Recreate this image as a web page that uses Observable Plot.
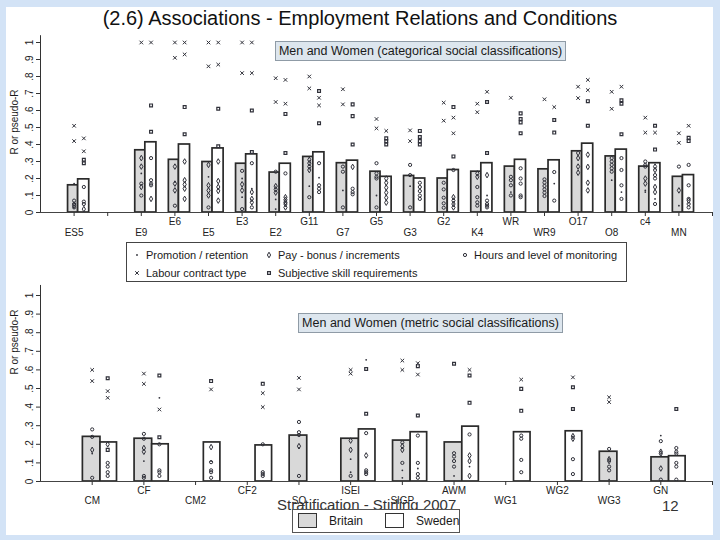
<!DOCTYPE html>
<html><head><meta charset="utf-8">
<script src="https://cdn.jsdelivr.net/npm/d3@7"></script>
<script src="https://cdn.jsdelivr.net/npm/@observablehq/plot@0.6"></script>
<style>
html,body{margin:0;padding:0;}
body{background:#d3e3f6;width:720px;height:540px;overflow:hidden;position:relative;font-family:"Liberation Sans",Arial,sans-serif;color:#1a1a1a;}
.abs{position:absolute;}
#slide{left:6px;top:7px;width:707px;height:528px;background:#fff;}
#title{left:0;width:720px;top:6px;text-align:center;font-size:20px;line-height:24px;color:#111;}
.sub{background:#dde6ee;border:1px solid #8f9ba6;font-size:12.5px;line-height:18px;text-align:center;color:#1a1a1a;box-sizing:border-box;}
.ytitle{font-size:10px;transform:translate(-50%,-50%) rotate(-90deg);white-space:nowrap;}
#legend{left:126px;top:242px;width:501px;height:40px;border:1px solid #444;box-sizing:border-box;background:#fff;font-size:11px;}
.li{position:absolute;white-space:nowrap;line-height:12px;}
.li svg{position:absolute;left:-14px;top:0;}
#clegend{left:292px;top:509px;width:168px;height:24px;border:1px solid #555;box-sizing:border-box;background:#fff;font-size:12px;}
.sw{position:absolute;top:3px;width:19px;height:15px;border:1.5px solid #333;box-sizing:border-box;}
#foot{left:277px;top:496px;font-size:15px;color:#333;white-space:nowrap;}
#pnum{left:662px;top:497px;font-size:15px;color:#333;}
</style></head><body>
<div id="slide" class="abs"></div>
<div id="title" class="abs">(2.6) Associations - Employment Relations and Conditions</div>
<div id="top" class="abs" style="left:0;top:30px;"></div>
<div id="bot" class="abs" style="left:0;top:280px;"></div>
<div class="abs sub" style="left:275px;top:41px;width:291px;height:20px;">Men and Women (categorical social classifications)</div>
<div class="abs sub" style="left:298px;top:313px;width:265px;height:20px;">Men and Women (metric social classifications)</div>
<div class="abs ytitle" style="left:14px;top:122px;">R or pseudo-R</div>
<div class="abs ytitle" style="left:14px;top:342px;">R or pseudo-R</div>
<div id="legend" class="abs"></div>
<div id="foot" class="abs">Stratification - Stirling 2007</div>
<div id="clegend" class="abs">
  <div class="sw" style="left:5px;background:#d9d9d9;"></div><div class="li" style="left:36px;top:5px;">Britain</div>
  <div class="sw" style="left:92px;background:#fff;"></div><div class="li" style="left:123px;top:5px;">Sweden</div>
</div>
<div id="pnum" class="abs">12</div>
<script>
// ---------- DATA ----------
const topCats = ["ES5","","E9","E6","E5","E3","E2","G11","G7","G5","G3","G2","K4","WR","WR9","O17","O8","c4","MN"];
const topBritain = [.16,null,.366,.31,.297,.287,.235,.327,.29,.24,.215,.20,.24,.27,.254,.36,.33,.27,.21];
const topSweden  = [.195,null,.413,.40,.377,.342,.287,.354,.305,.21,.20,.25,.29,.31,.307,.405,.37,.29,.22];
// each row: [promotion, pay, hours, contract type, subjective skill]
const topPtsBritain = [
  [[.17],[.04],[.07,.05,.03],[.51,.42],[]],
  null,
  [[.23],[.32,.27,.15],[.17,.10],[1.0],[]],
  [[.18],[.27,.17,.13],[.04],[1.0,.91],[]],
  [[.21],[.28,.16,.13,.10],[.03],[1.0,.86],[]],
  [[.20,.09],[.166,.13],[.245,.02],[1.0,.82],[]],
  [[.077,.02],[.155,.136,.117],[.24],[.79,.65],[]],
  [[.155],[.31,.29,.27,.25],[.09],[.80,.73],[]],
  [[.13],[],[.27,.24,.03],[.725,.636],[]],
  [[.10],[],[.29,.23,.21,.20,.03],[.55,.495],[]],
  [[.155],[],[.28,.22,.03],[.483,.42],[]],
  [[],[],[.175,.136,.087,.054,.028],[.646,.54],[]],
  [[],[.23,.21],[.15,.09,.06,.04],[.64,.59],[]],
  [[.12],[],[.21,.19,.16,.10],[.675],[]],
  [[],[],[.195,.176,.156,.136,.117,.097],[.666],[]],
  [[],[.35,.32,.27,.234],[],[.74,.673],[]],
  [[.19],[],[.32,.30,.28,.26,.24],[.71,.61],[]],
  [[.13,.12],[.20,.17],[.30,.28,.27],[.558,.47],[]],
  [[.04],[.13],[.27],[.466,.41],[]]
];
const topPtsSweden = [
  [[],[.02],[.15,.064,.05],[.436,.36],[.31,.29]],
  null,
  [[],[.08],[.32,.19,.17,.16],[1.0],[.63,.475]],
  [[],[.30,.19,.165,.14,.08],[],[1.0,.93],[.62,.46]],
  [[],[.30,.185,.15,.127,.07],[],[1.0,.87],[.61,.39]],
  [[.14],[.12,.08,.06],[.29,.03],[1.0,.82],[.60,.356]],
  [[],[.09,.075,.06,.05,.03],[.23],[.78,.64],[.58,.35]],
  [[.205],[],[.29,.16,.14,.12],[.675,.63],[.715,.525]],
  [[],[.268],[.14,.12,.107],[],[.636,.567,.40]],
  [[],[.2,.175,.146,.117,.087,.058],[],[.48],[.436,.42,.40]],
  [[],[],[.175,.15,.126,.10,.08],[],[.48,.444,.42,.40]],
  [[],[.09,.07,.05,.03],[.25],[.558,.466],[.62,.33]],
  [[.10],[.22],[.07,.05,.04,.03],[.71],[.65,.35]],
  [[],[],[.26,.20,.17,.10,.09],[],[.583,.55,.53,.466]],
  [[.17],[],[.238,.07],[.62],[.544,.47]],
  [[],[.34,.268,.175,.13],[],[.78,.72],[.655,.51]],
  [[.12],[],[.32,.25,.16,.08],[.74],[.66,.64,.46]],
  [[.08],[.27,.25,.15,.12],[.22,.20,.05],[.47],[.51,.37]],
  [[],[.07],[.28,.16,.08,.05,.03],[.51],[.44,.42]]
];
const botCats = ["CM","CF","CM2","CF2","SQ","ISEI","SIGP","AWM","WG1","WG2","WG3","GN"];
const botBritain = [.24,.23,null,null,.247,.23,.22,.21,null,null,.16,.13];
const botSweden  = [.21,.20,.21,.194,null,.28,.265,.295,.265,.27,null,.136];
const botPtsBritain = [
  [[.15],[.17],[.28,.24,.02],[.60,.54],[]],
  [[.11],[.18,.16],[.256,.23,.03,.02],[.58,.525],[]],
  null,
  null,
  [[.18],[.19],[.32,.265,.25,.03],[.557,.495],[]],
  [[.12,.05],[.22,.17],[.03],[.60,.58],[]],
  [[.06,.02],[.19,.17],[.21,.10],[.65,.60],[]],
  [[.03],[],[.152,.134,.11,.08],[],[.633]],
  null,
  null,
  [[.01],[.12,.11],[.175,.08,.06],[.453,.427],[]],
  [[.247],[.16,.15,.07],[.217,.01],[],[]]
];
const botPtsSweden = [
  [[],[.20],[.10,.08,.05,.03],[.486,.45],[.555,.17]],
  [[.45],[],[.20,.06,.05,.03],[.387],[.57,.238]],
  [[.11],[.185],[.104,.06,.05,.02],[.495],[.54]],
  [[],[],[.20,.05,.04,.03],[.475,.40],[.525]],
  null,
  [[.654],[.14],[.26,.06,.05,.04],[],[.605,.364]],
  [[.07],[],[.247,.10,.04,.02],[.636,.575],[.62,.355]],
  [[.08],[.14,.11,.03],[.253],[.60],[.57,.423]],
  [[],[],[.247,.23,.116,.05],[.548],[.498,.38]],
  [[],[.244,.23],[.12,.04],[.56],[.507,.39]],
  null,
  [[],[],[.18,.16,.15,.10,.08,.01],[],[.39]]
];
const yTicks = [0,.1,.2,.3,.4,.5,.6,.7,.8,.9,1];
const legendLabels = ["Promotion / retention","Pay - bonus / increments","Hours and level of monitoring","Labour contract type","Subjective skill requirements"];
const countries = ["Britain","Sweden"];

// ---------- STYLE ----------
const INK = "#30313a";
const symStyle = [
  {symbol:"circle", r:0.9, fill:INK, stroke:"none"},
  {symbol:"diamond", r:1.7, fill:"none", stroke:INK, strokeWidth:1},
  {symbol:"circle", r:1.6, fill:"none", stroke:INK, strokeWidth:1},
  {symbol:"times", r:1.8, fill:"none", stroke:INK, strokeWidth:1},
  {symbol:"square", r:1.6, fill:"none", stroke:INK, strokeWidth:1.2}
];
const yFmt = d => d === 0 ? "0" : d === 1 ? "1" : d3.format(".1f")(d).replace(/^0/, "");

function panel(o) {
  const n = o.cats.length;
  const bars = [];
  o.cats.forEach((c, i) => {
    if (o.brit[i] != null) bars.push({x1: i+1+o.bOff[0], x2: i+1+o.bOff[1], v: o.brit[i], c: countries[0]});
    if (o.swe[i] != null) bars.push({x1: i+1+o.sOff[0], x2: i+1+o.sOff[1], v: o.swe[i], c: countries[1]});
  });
  const pts = [];
  [[o.ptsB, o.pB], [o.ptsS, o.pS]].forEach(([rows, off]) => {
    rows.forEach((row, i) => {
      if (!row) return;
      row.forEach((vals, t) => vals.forEach(v => pts.push({x: i+1+off, y: v, t})));
    });
  });
  const idx = d3.range(1, n+1);
  const fmt = i => o.cats[i-1] || "";
  const dotMarks = symStyle.map((s, t) => Plot.dot(pts.filter(p => p.t === t), {x:"x", y:"y", ...s}));
  return Plot.plot({
    width: 720, height: o.height,
    marginLeft: 40, marginRight: 8, marginTop: o.marginTop, marginBottom: o.marginBottom,
    style: {background: "transparent", fontFamily: "'Liberation Sans', Arial, sans-serif", fontSize: "10px", color: "#222"},
    x: {domain: [0, n+1], label: null},
    y: {domain: [0, 1], label: null},
    marks: [
      Plot.rectY(bars, {x1:"x1", x2:"x2", y1:0, y2:"v", fill: d => d.c === "Britain" ? "#d9d9d9" : "#ffffff", stroke:"#2a2a2a", strokeWidth: 1.7}),
      ...dotMarks,
      Plot.ruleX([0], {y1: 0, y2: o.yTop, stroke:"#333", strokeWidth: 1}),
      Plot.ruleY([0], {stroke:"#444", strokeWidth: 1}),
      Plot.axisY(yTicks, {tickSize: 4, tickFormat: () => "", stroke:"#333"}),
      Plot.text(yTicks, {x: 0, y: d => d, dx: -11, rotate: -90, text: yFmt, fontSize: 10, fill:"#222"}),
      Plot.axisX(idx.filter(i => i % 2 === 0), {tickSize: 4, tickPadding: o.padUp, tickFormat: fmt, stroke:"#333", fill:"#222"}),
      Plot.axisX(idx.filter(i => i % 2 === 1), {tickSize: 4, tickPadding: o.padLow, tickFormat: fmt, stroke:"#333", fill:"#222"}),
      Plot.axisX([n+1], {tickSize: 4, tickFormat: () => "", stroke:"#333"})
    ]
  });
}

document.getElementById("top").append(panel({
  cats: topCats, brit: topBritain, swe: topSweden, ptsB: topPtsBritain, ptsS: topPtsSweden,
  height: 215, marginTop: 12, marginBottom: 33, yTop: 1.04,
  bOff: [-0.18, 0.12], sOff: [0.12, 0.45], pB: 0, pS: 0.29, padUp: 1.5, padLow: 12.5
}));
document.getElementById("bot").append(panel({
  cats: botCats, brit: botBritain, swe: botSweden, ptsB: botPtsBritain, ptsS: botPtsSweden,
  height: 230, marginTop: 15, marginBottom: 29, yTop: 1.054,
  bOff: [-0.18, 0.16], sOff: [0.16, 0.48], pB: 0, pS: 0.30, padUp: 1.5, padLow: 11
}));

// ---------- LEGEND ----------
const leg = document.getElementById("legend");
const legPos = [[19,6],[151,6],[347,6],[19,24],[151,24]];
legendLabels.forEach((lab, t) => {
  const s = symStyle[t];
  const el = document.createElement("div");
  el.className = "li";
  el.style.left = legPos[t][0] + "px";
  el.style.top = legPos[t][1] + "px";
  el.textContent = lab;
  const svg = d3.create("svg").attr("width", 10).attr("height", 12);
  const sym = {circle: d3.symbolCircle, diamond: d3.symbolDiamond, times: d3.symbolTimes, square: d3.symbolSquare}[s.symbol];
  svg.append("path").attr("transform", "translate(5,6)")
    .attr("d", d3.symbol(sym, Math.PI * s.r * s.r)())
    .attr("fill", s.fill).attr("stroke", s.stroke).attr("stroke-width", s.strokeWidth || 0);
  el.prepend(svg.node());
  leg.append(el);
});
</script>
</body></html>
